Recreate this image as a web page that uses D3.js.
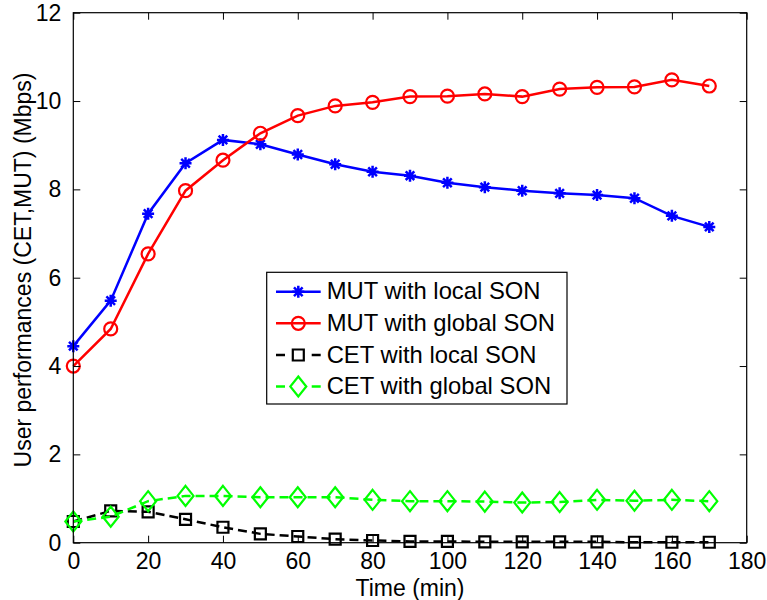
<!DOCTYPE html>
<html><head><meta charset="utf-8">
<script src="https://cdn.jsdelivr.net/npm/d3@7"></script>
<style>body{margin:0;background:#fff}svg{display:block}text{font-family:"Liberation Sans",Arial,sans-serif}</style>
</head><body><div id="c"></div>
<script>
const times = [0,10,20,30,40,50,60,70,80,90,100,110,120,130,140,150,160,170];
const mutLocal  = [4.45,5.48,7.45,8.59,9.12,9.02,8.79,8.57,8.40,8.31,8.15,8.05,7.97,7.91,7.87,7.80,7.40,7.15];
const mutGlobal = [4.00,4.84,6.54,7.97,8.66,9.27,9.67,9.89,9.97,10.10,10.11,10.16,10.10,10.27,10.31,10.32,10.48,10.34];
const cetLocal  = [0.48,0.72,0.70,0.53,0.35,0.20,0.14,0.08,0.05,0.03,0.03,0.02,0.02,0.02,0.02,0.01,0.01,0.01];
const cetGlobal = [0.48,0.59,0.94,1.06,1.06,1.03,1.03,1.03,0.97,0.94,0.94,0.93,0.91,0.92,0.97,0.95,0.97,0.94];
const xTicks = [0,20,40,60,80,100,120,140,160,180];
const yTicks = [0,2,4,6,8,10,12];
const seriesNames = ["MUT with local SON","MUT with global SON","CET with local SON","CET with global SON"];

(function(){
const W=767,H=600;
const m={l:73.3,r:W-746.7,t:12.7,b:H-542.7};
const svg=d3.select("#c").append("svg").attr("width",W).attr("height",H);
const x=d3.scaleLinear().domain([0,180]).range([m.l,W-m.r]);
const y=d3.scaleLinear().domain([0,12]).range([H-m.b,m.t]);
const FS=23;

const series=[
 {name:seriesNames[0],vals:mutLocal,color:"#0000ff",dash:null,marker:"star"},
 {name:seriesNames[1],vals:mutGlobal,color:"#ff0000",dash:null,marker:"circle"},
 {name:seriesNames[2],vals:cetLocal,color:"#000000",dash:"9,5",marker:"square"},
 {name:seriesNames[3],vals:cetGlobal,color:"#00ff00",dash:"9,5",marker:"diamond"}
];

function markerPath(type){
  if(type==="star"){const r=6,d=r*0.72;return `M${-r},0L${r},0M0,${-r}L0,${r}M${-d},${-d}L${d},${d}M${-d},${d}L${d},${-d}`;}
  if(type==="circle"){const r=6.5;return `M${r},0A${r},${r} 0 1,1 ${-r},0A${r},${r} 0 1,1 ${r},0Z`;}
  if(type==="square"){const s=5.5;return `M${-s},${-s}H${s}V${s}H${-s}Z`;}
  if(type==="diamond"){const w=8,h=10;return `M0,${-h}L${w},0L0,${h}L${-w},0Z`;}
}

const line=d3.line().x((d,i)=>x(times[i])).y(d=>y(d));
const g=svg.append("g");
series.forEach(s=>{
  g.append("path").datum(s.vals).attr("d",line).attr("fill","none")
   .attr("stroke",s.color).attr("stroke-width",2.5).attr("stroke-dasharray",s.dash);
  g.selectAll(null).data(s.vals).enter().append("path")
   .attr("transform",(d,i)=>`translate(${x(times[i])},${y(d)})`)
   .attr("d",markerPath(s.marker)).attr("fill","none").attr("stroke",s.color)
   .attr("stroke-width",s.marker==="star"?2.5:2.2);
});

const ax=svg.append("g");
ax.append("rect").attr("x",m.l).attr("y",m.t).attr("width",W-m.r-m.l).attr("height",H-m.b-m.t)
  .attr("fill","none").attr("stroke","#000").attr("stroke-width",1.2);
const axB=d3.axisBottom(x).tickValues(xTicks).tickSizeInner(-7).tickSizeOuter(0).tickPadding(10);
const axL=d3.axisLeft(y).tickValues(yTicks).tickSizeInner(-7).tickSizeOuter(0).tickPadding(12);
const axT=d3.axisTop(x).tickValues(xTicks).tickSizeInner(-7).tickSizeOuter(0).tickFormat("");
const axR=d3.axisRight(y).tickValues(yTicks).tickSizeInner(-7).tickSizeOuter(0).tickFormat("");
function style(sel){sel.select(".domain").remove();sel.selectAll("line").attr("stroke","#000").attr("stroke-width",1);
  sel.selectAll("text").attr("font-size",FS).attr("fill","#000").attr("font-family","'Liberation Sans',Arial,sans-serif");}
ax.append("g").attr("transform",`translate(0,${H-m.b})`).call(axB).call(style);
ax.append("g").attr("transform",`translate(${m.l},0)`).call(axL).call(style);
ax.append("g").attr("transform",`translate(0,${m.t})`).call(axT).call(style);
ax.append("g").attr("transform",`translate(${W-m.r},0)`).call(axR).call(style);

svg.append("text").attr("x",(m.l+W-m.r)/2).attr("y",595.5).attr("text-anchor","middle")
  .attr("font-size",FS).text("Time (min)");
svg.append("text").attr("transform",`translate(31,270) rotate(-90)`).attr("text-anchor","middle")
  .attr("font-size",FS).text("User performances (CET,MUT) (Mbps)");

const L={x:266.7,y:272.3,w:300.3,h:131.7};
const lg=svg.append("g");
lg.append("rect").attr("x",L.x).attr("y",L.y).attr("width",L.w).attr("height",L.h)
  .attr("fill","#fff").attr("stroke","#000").attr("stroke-width",1.2);
const rowY=[291.7,323.3,355,386.5];
series.forEach((s,i)=>{
  const yy=rowY[i];
  if(s.dash){
    lg.append("line").attr("x1",276).attr("x2",285).attr("y1",yy).attr("y2",yy).attr("stroke",s.color).attr("stroke-width",2.5);
    lg.append("line").attr("x1",311.7).attr("x2",320.7).attr("y1",yy).attr("y2",yy).attr("stroke",s.color).attr("stroke-width",2.5);
  } else {
    lg.append("line").attr("x1",276).attr("x2",320.7).attr("y1",yy).attr("y2",yy).attr("stroke",s.color).attr("stroke-width",2.5);
  }
  lg.append("path").attr("transform",`translate(298.3,${yy})`).attr("d",markerPath(s.marker))
    .attr("fill","none").attr("stroke",s.color).attr("stroke-width",s.marker==="star"?2.5:2.2);
  lg.append("text").attr("x",326.7).attr("y",yy+7.5).attr("font-size",23.8).text(s.name);
});
})();
</script></body></html>
